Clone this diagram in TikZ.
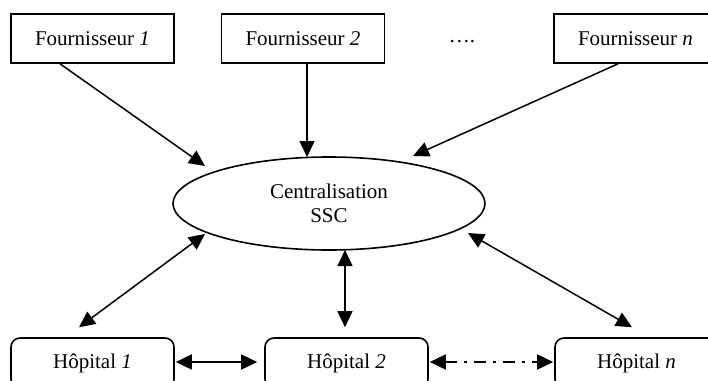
\documentclass[tikz,border=0pt]{standalone}
\usepackage{fontspec}
\setmainfont{Liberation Serif}
\usetikzlibrary{arrows.meta,shapes.geometric,calc}
\begin{document}
\begin{tikzpicture}[x=1pt,y=-1pt,
  every node/.style={font=\fontsize{21}{25}\selectfont, inner sep=0pt},
  fbox/.style={draw, line width=1.6pt, rectangle, minimum width=163pt, minimum height=49pt},
  hbox/.style={draw, line width=1.6pt, rectangle, rounded corners=9pt, minimum width=163pt, minimum height=50pt},
  central/.style={draw, line width=1.6pt, ellipse, minimum width=312pt, minimum height=93pt},
  conn/.style={line width=1.5pt, -{Triangle[length=16pt,width=15pt]}},
  biconn/.style={line width=1.5pt, {Triangle[length=16pt,width=15pt]}-{Triangle[length=16pt,width=15pt]}},
  dashdot/.style={dash pattern=on 12pt off 7pt on 3pt off 7pt}
]
\useasboundingbox (0,0) rectangle (708,380);
\clip (0,0) rectangle (708,380);
\fill[white] (0,0) rectangle (708,380);

\node[fbox] (f1) at (92.5,38.5) {Fournisseur \textit{1}};
\node[fbox] (f2) at (303,38.5) {Fournisseur \textit{2}};
\node (dots) at (462,41.5) {….};
\node[fbox] (fn) at (635.5,38.5) {Fournisseur \textit{n}};

\node[central, align=center] (c) at (329,203.5) {Centralisation\\[-1pt]SSC};

\node[hbox] (h1) at (92.5,363) {Hôpital \textit{1}};
\node[hbox] (h2) at (346.5,363) {Hôpital \textit{2}};
\node[hbox] (hn) at (636.5,363) {Hôpital \textit{n}};

\draw[conn] ($(f1.south)+(-32.5,0)$) -- ($(c.center)+(-124,-37.5)$);
\draw[conn] ($(f2.south)+(4,0)$) -- ($(c.center)+(-22,-46.5)$);
\draw[conn] ($(fn.south)+(-17.5,0)$) -- ($(c.center)+(84,-47.5)$);

\draw[biconn] ($(c.center)+(-124,30.5)$) -- ($(h1.north)+(-13.5,-10)$);
\draw[biconn] ($(c.center)+(16,46.5)$) -- ($(h2.north)+(-1.5,-10)$);
\draw[biconn] ($(c.center)+(139,29.5)$) -- ($(hn.north)+(-4.5,-10)$);

\draw[biconn] ($(h1.east)+(1,-1)$) -- ($(h2.west)+(-7,-1)$);
\draw[biconn, dashdot] ($(h2.east)+(1,-1)$) -- ($(hn.west)+(-1,-1)$);
\end{tikzpicture}
\end{document}
